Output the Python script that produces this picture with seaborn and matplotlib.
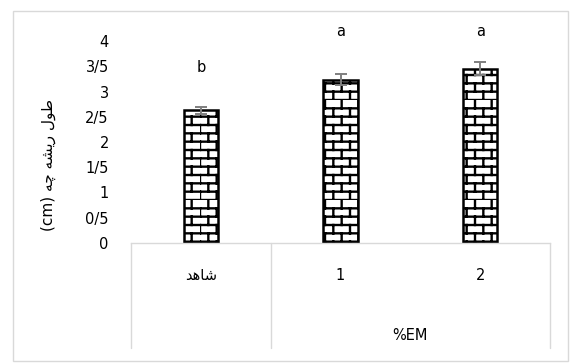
import warnings
import numpy as np
import matplotlib
matplotlib.use("Agg")
import matplotlib.pyplot as plt
import matplotlib.hatch as mhatch
from matplotlib.path import Path
from matplotlib.patches import Rectangle
import matplotlib.transforms as mtransforms
import seaborn as sns

warnings.filterwarnings("ignore")

# ---------------- data ----------------
categories = ["شاهد", "1", "2"]
# visual (shaped, left-to-right) forms for display
tick_labels = ["\uFEAA\uFEEB\uFE8E\uFEB7", "1", "2"]
values = [2.63, 3.23, 3.45]
errors = [0.07, 0.11, 0.13]
letters = ["b", "a", "a"]
letter_y = [3.47, 4.18, 4.18]
y_ticks = [0, 0.5, 1, 1.5, 2, 2.5, 3, 3.5, 4]
y_tick_labels = ["0", "0/5", "1", "1/5", "2", "2/5", "3", "3/5", "4"]
group_label = "%EM"
# "طول ریشه چه (cm)" shaped, visual order
y_label = "(cm) \uFEEA\uFB7C \uFEEA\uFEB8\uFEF3\uFEAD \uFEDD\uFEEE\uFEC3"


# ---------------- brick hatch ----------------
class BrickHatch(mhatch.HatchPatternBase):
    def __init__(self, hatch, density):
        self.n = 2 * density * hatch.count("B")
        self.m = self.n // 2
        self.num_lines = self.n + self.n * self.m
        self.num_vertices = 2 * self.num_lines

    def set_vertices_and_codes(self, vertices, codes):
        n, m = self.n, self.m
        k = 0
        for i in range(n):
            y0 = i / n
            vertices[k] = (0.0, y0)
            vertices[k + 1] = (1.0, y0)
            codes[k] = Path.MOVETO
            codes[k + 1] = Path.LINETO
            k += 2
            for j in range(m):
                x = (j + 0.5 * (i % 2)) / m
                vertices[k] = (x, y0)
                vertices[k + 1] = (x, y0 + 1.0 / n)
                codes[k] = Path.MOVETO
                codes[k + 1] = Path.LINETO
                k += 2


mhatch._hatch_types.append(BrickHatch)

# ---------------- figure ----------------
sns.set_theme(style="white")
plt.rcParams["font.family"] = ["DejaVu Sans"]
plt.rcParams["hatch.linewidth"] = 1.7
for key in ["text.color", "axes.labelcolor", "xtick.color", "ytick.color",
            "xtick.labelcolor", "ytick.labelcolor"]:
    plt.rcParams[key] = "black"

W, H = 574, 363
fig = plt.figure(figsize=(W / 100, H / 100), dpi=100)
ax = fig.add_axes([131 / W, 1 - 243 / H, (550 - 131) / W, (243 - 41) / H])

sns.barplot(x=categories, y=values, color="white", edgecolor="black",
            linewidth=1.8, width=0.245, saturation=1, errorbar=None, ax=ax)
for p in ax.patches:
    p.set_hatch("B")

ax.errorbar(x=np.arange(len(values)), y=values, yerr=errors, fmt="none",
            ecolor="#7f7f7f", elinewidth=1.4, capsize=4.5, capthick=1.4,
            zorder=5)

for i, (lt, ly) in enumerate(zip(letters, letter_y)):
    ax.text(i, ly, lt, ha="center", va="center", fontsize=10.5,
            color="black", clip_on=False)

ax.set_ylim(0, 4)
ax.set_xlim(-0.5, 2.5)
ax.set_yticks(y_ticks)
ax.set_yticklabels(y_tick_labels, fontsize=10.5)
ax.set_xticks(range(len(categories)))
ax.set_xticklabels(tick_labels, fontsize=10.5)
ax.tick_params(axis="y", length=0, pad=16, labelcolor="black")
ax.tick_params(axis="x", length=0, pad=18, labelcolor="black")
ax.set_xlabel("")
ax.set_ylabel(y_label, fontsize=11, color="black")
ax.yaxis.label.set_va("center")
ax.yaxis.set_label_coords((48 - 131) / (550 - 131), (243 - 165) / (243 - 41))

for s in ["left", "top", "right"]:
    ax.spines[s].set_visible(False)
ax.spines["bottom"].set_color("#d9d9d9")
ax.spines["bottom"].set_linewidth(1.0)

# category table lines below the axis
trans = mtransforms.blended_transform_factory(ax.transData, ax.transAxes)
y_bot = -(348 - 243) / (243 - 41)
for xb in [-0.5, 0.5, 2.5]:
    ax.plot([xb, xb], [0, y_bot], color="#d9d9d9", lw=1.0,
            transform=trans, clip_on=False)
ax.text(1.5, -(336 - 243) / (243 - 41), group_label, transform=trans,
        ha="center", va="center", fontsize=10.5, color="black")

# outer chart border
fig.add_artist(Rectangle((13 / W, 1 - 361 / H), (568 - 13) / W, (361 - 11) / H,
                         transform=fig.transFigure, fill=False,
                         edgecolor="#d9d9d9", lw=1.0))

fig.savefig("out.png", dpi=100)
